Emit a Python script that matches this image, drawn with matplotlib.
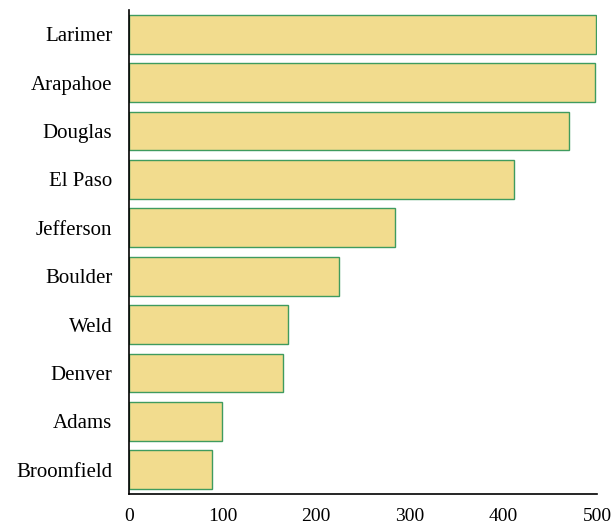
import matplotlib
matplotlib.use("Agg")
import matplotlib.pyplot as plt

counties = ["Larimer", "Arapahoe", "Douglas", "El Paso", "Jefferson",
            "Boulder", "Weld", "Denver", "Adams", "Broomfield"]
values = [499, 498, 470, 411, 284, 224, 170, 165, 99, 89]
xticks = [0, 100, 200, 300, 400, 500]

plt.rcParams['font.family'] = ['Liberation Serif', 'DejaVu Serif']

fig = plt.figure(figsize=(6.13, 5.27), dpi=100)
ax = fig.add_axes([129/613, 1-494/527, 468/613, 484/527])

ax.barh(range(len(counties)), values, height=0.8,
        color='#f2dc8e', edgecolor='#3f9b5f', linewidth=1)

ax.set_ylim(9.5, -0.5)
ax.set_xlim(0, 500)
ax.set_yticks(range(len(counties)))
ax.set_yticklabels(counties, fontsize=15)
ax.set_xticks(xticks)
ax.set_xticklabels([str(t) for t in xticks], fontsize=14)
ax.tick_params(length=0, pad=10, axis='x')
ax.tick_params(length=0, pad=12, axis='y')
for s in ['top', 'right']:
    ax.spines[s].set_visible(False)
ax.spines['left'].set_linewidth(1.2)
ax.spines['bottom'].set_linewidth(1.2)

fig.savefig("out.png", dpi=100)
